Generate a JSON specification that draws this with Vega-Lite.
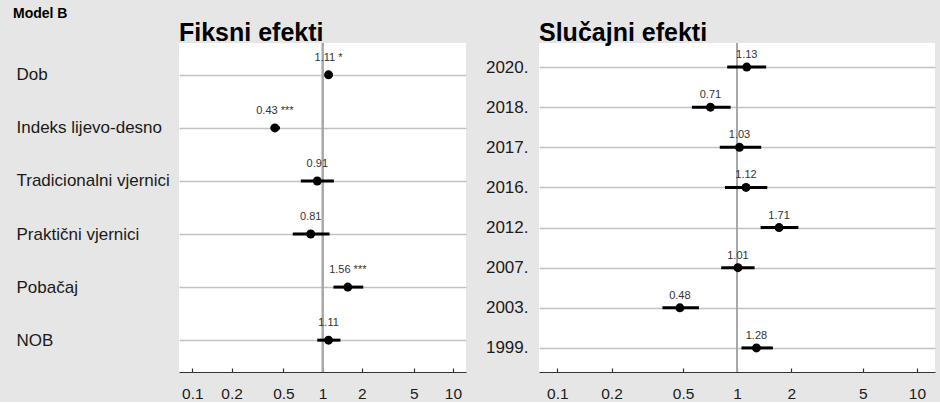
{
  "$schema": "https://vega.github.io/schema/vega-lite/v6.json",
  "background": "#e6e6e6",
  "padding": {"left": 13, "top": 7, "right": 7, "bottom": 0},
  "spacing": 19,
  "title": {"text": "Model B", "fontSize": 14, "fontWeight": "bold", "anchor": "start", "frame": "bounds", "offset": 0, "dx": -3, "color": "#000000"},
  "config": {
    "font": "Liberation Sans",
    "view": {"fill": "white", "stroke": null},
    "axisX": {
      "grid": false,
      "domainColor": "#333333",
      "domainWidth": 1.2,
      "tickColor": "#333333",
      "tickSize": -4,
      "tickWidth": 1.2,
      "labelFontSize": 15.5,
      "labelColor": "#1a1a1a",
      "labelPadding": 18,
      "title": null
    },
    "axisY": {
      "grid": true,
      "gridColor": "#c2c2c2",
      "gridWidth": 1.5,
      "domain": false,
      "ticks": false,
      "labelFontSize": 17,
      "labelColor": "#1a1a1a",
      "title": null
    },
    "title": {"fontSize": 25, "fontWeight": "bold", "color": "#000000", "anchor": "start", "frame": "group", "offset": -4}
  },
  "datasets": {
    "fixed": [
      {"term": "Dob", "est": 1.11, "lo": 1.04, "hi": 1.19, "label": "1.11 *"},
      {"term": "Indeks lijevo-desno", "est": 0.43, "lo": 0.40, "hi": 0.47, "label": "0.43 ***"},
      {"term": "Tradicionalni vjernici", "est": 0.91, "lo": 0.68, "hi": 1.22, "label": "0.91"},
      {"term": "Praktični vjernici", "est": 0.81, "lo": 0.59, "hi": 1.13, "label": "0.81"},
      {"term": "Pobačaj", "est": 1.56, "lo": 1.21, "hi": 2.05, "label": "1.56 ***"},
      {"term": "NOB", "est": 1.11, "lo": 0.91, "hi": 1.37, "label": "1.11"}
    ],
    "random": [
      {"term": "2020.", "est": 1.13, "lo": 0.88, "hi": 1.45, "label": "1.13"},
      {"term": "2018.", "est": 0.71, "lo": 0.56, "hi": 0.92, "label": "0.71"},
      {"term": "2017.", "est": 1.03, "lo": 0.80, "hi": 1.36, "label": "1.03"},
      {"term": "2016.", "est": 1.12, "lo": 0.855, "hi": 1.47, "label": "1.12"},
      {"term": "2012.", "est": 1.71, "lo": 1.35, "hi": 2.19, "label": "1.71"},
      {"term": "2007.", "est": 1.01, "lo": 0.815, "hi": 1.25, "label": "1.01"},
      {"term": "2003.", "est": 0.48, "lo": 0.384, "hi": 0.613, "label": "0.48"},
      {"term": "1999.", "est": 1.28, "lo": 1.056, "hi": 1.58, "label": "1.28"}
    ]
  },
  "hconcat": [
    {
      "title": "Fiksni efekti",
      "width": 287,
      "height": 329,
      "data": {"name": "fixed"},
      "encoding": {
        "y": {
          "field": "term",
          "type": "nominal",
          "scale": {"type": "point", "padding": 0.6, "domain": ["Dob", "Indeks lijevo-desno", "Tradicionalni vjernici", "Praktični vjernici", "Pobačaj", "NOB"]},
          "axis": {"labelAlign": "left", "labelPadding": 163}
        }
      },
      "layer": [
        {
          "mark": {"type": "rule", "color": "#a8a8a8", "strokeWidth": 1.5},
          "encoding": {
            "x": {"datum": 1, "type": "quantitative", "scale": {"type": "log", "domain": [0.079, 12.6], "nice": false}, "axis": {"values": [0.1, 0.2, 0.5, 1, 2, 5, 10], "format": "~g"}},
            "y": null
          }
        },
        {
          "mark": {"type": "rule", "color": "#000000", "strokeWidth": 3},
          "encoding": {
            "x": {"field": "lo", "type": "quantitative", "scale": {"type": "log", "domain": [0.079, 12.6], "nice": false}},
            "x2": {"field": "hi"}
          }
        },
        {
          "mark": {"type": "circle", "color": "#000000", "opacity": 1, "size": 80},
          "encoding": {
            "x": {"field": "est", "type": "quantitative", "scale": {"type": "log", "domain": [0.079, 12.6], "nice": false}}
          }
        },
        {
          "mark": {"type": "text", "fontSize": 11, "color": "#333333", "baseline": "middle", "dy": -17},
          "encoding": {
            "x": {"field": "est", "type": "quantitative", "scale": {"type": "log", "domain": [0.079, 12.6], "nice": false}},
            "text": {"field": "label"}
          }
        }
      ]
    },
    {
      "title": "Slučajni efekti",
      "width": 396,
      "height": 329,
      "data": {"name": "random"},
      "encoding": {
        "y": {
          "field": "term",
          "type": "nominal",
          "scale": {"type": "point", "padding": 0.6, "domain": ["2020.", "2018.", "2017.", "2016.", "2012.", "2007.", "2003.", "1999."]},
          "axis": {"labelPadding": 11}
        }
      },
      "layer": [
        {
          "mark": {"type": "rule", "color": "#a8a8a8", "strokeWidth": 1.5},
          "encoding": {
            "x": {"datum": 1, "type": "quantitative", "scale": {"type": "log", "domain": [0.079, 12.6], "nice": false}, "axis": {"values": [0.1, 0.2, 0.5, 1, 2, 5, 10], "format": "~g"}},
            "y": null
          }
        },
        {
          "mark": {"type": "rule", "color": "#000000", "strokeWidth": 3},
          "encoding": {
            "x": {"field": "lo", "type": "quantitative", "scale": {"type": "log", "domain": [0.079, 12.6], "nice": false}},
            "x2": {"field": "hi"}
          }
        },
        {
          "mark": {"type": "circle", "color": "#000000", "opacity": 1, "size": 80},
          "encoding": {
            "x": {"field": "est", "type": "quantitative", "scale": {"type": "log", "domain": [0.079, 12.6], "nice": false}}
          }
        },
        {
          "mark": {"type": "text", "fontSize": 11, "color": "#333333", "baseline": "middle", "dy": -12},
          "encoding": {
            "x": {"field": "est", "type": "quantitative", "scale": {"type": "log", "domain": [0.079, 12.6], "nice": false}},
            "text": {"field": "label"}
          }
        }
      ]
    }
  ]
}
